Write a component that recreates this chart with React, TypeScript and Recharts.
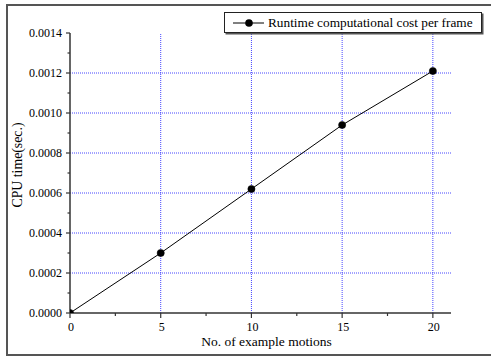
import React from "react";
import {
  Legend,
  Line,
  LineChart,
  ReferenceLine,
  XAxis,
  YAxis,
} from "recharts";

const motions = [0, 5, 10, 15, 20];
const cpuTime = [0, 0.0003, 0.00062, 0.00094, 0.00121];
const xTicks = [0, 2.5, 5, 7.5, 10, 12.5, 15, 17.5, 20];
const yTicks = [
  0, 0.0001, 0.0002, 0.0003, 0.0004, 0.0005, 0.0006, 0.0007, 0.0008, 0.0009,
  0.001, 0.0011, 0.0012, 0.0013, 0.0014,
];
const xGrid = [5, 10, 15, 20];
const yGrid = [0.0002, 0.0004, 0.0006, 0.0008, 0.001, 0.0012];
const seriesName = "Runtime computational cost per frame";

const data = motions.map((m, i) => ({ m, t: cpuTime[i] }));

const FONT = "'Liberation Serif', 'Times New Roman', serif";
const AXIS = "#333";
const GRID = "#4646ff";

function XTick({ x, y, payload }: any) {
  const major = payload.value % 5 === 0;
  return (
    <g>
      <line x1={x} y1={y} x2={x} y2={y + (major ? 5 : 3)} stroke={AXIS} strokeWidth={1.2} />
      {major && (
        <text x={x + 1} y={y + 18} textAnchor="middle" fontSize={12} fontFamily={FONT} fill="#000">
          {payload.value}
        </text>
      )}
    </g>
  );
}

function YTick({ x, y, payload }: any) {
  const major = Math.round(payload.value / 0.0001) % 2 === 0;
  return (
    <g>
      <line x1={x} y1={y} x2={x - (major ? 4 : 2.5)} y2={y} stroke={AXIS} strokeWidth={1.2} />
      {major && (
        <text x={x - 8} y={y + 4} textAnchor="end" fontSize={12} fontFamily={FONT} fill="#000">
          {payload.value.toFixed(4)}
        </text>
      )}
    </g>
  );
}

function LegendBox() {
  return (
    <div
      style={{
        display: "flex",
        alignItems: "center",
        height: 19,
        width: 256,
        border: "1px solid #222",
        boxShadow: "1.5px 1.5px 0 #555",
        background: "#fff",
        fontFamily: FONT,
        fontSize: 13.3,
        color: "#000",
        boxSizing: "content-box",
      }}
    >
      <svg width={43} height={19} style={{ flex: "none" }}>
        <line x1={8} y1={10} x2={39} y2={10} stroke="#000" strokeWidth={1} />
        <circle cx={24} cy={10} r={3.8} fill="#000" />
      </svg>
      <span style={{ whiteSpace: "nowrap" }}>{seriesName}</span>
    </div>
  );
}

export default function App() {
  return (
    <div style={{ position: "absolute", left: 0, top: 0, width: 491, height: 356, background: "#fff" }}>
      <div
        style={{
          position: "absolute",
          left: 6,
          top: 4,
          width: 500,
          height: 352,
          border: "2px solid #555",
          boxSizing: "border-box",
        }}
      />
      <div style={{ position: "absolute", left: 0, top: 0 }}>
        <LineChart width={491} height={356} data={data} margin={{ top: 33, right: 40, bottom: 0, left: 0 }}>
          <XAxis
            dataKey="m"
            type="number"
            domain={[0, 21]}
            ticks={xTicks}
            interval={0}
            allowDataOverflow
            height={43}
            tickSize={0}
            tickMargin={0}
            tick={<XTick />}
            axisLine={{ stroke: AXIS, strokeWidth: 1.5 }}
            tickLine={false}
            label={{
              content: ({ viewBox }: any) => (
                <text
                  x={viewBox.x + viewBox.width / 2 + 6}
                  y={346}
                  textAnchor="middle"
                  fontSize={13.5}
                  fontFamily={FONT}
                  fill="#000"
                >
                  No. of example motions
                </text>
              ),
            }}
          />
          <YAxis
            type="number"
            domain={[0, 0.0014]}
            ticks={yTicks}
            interval={0}
            allowDataOverflow
            width={70}
            tickSize={0}
            tickMargin={0}
            tick={<YTick />}
            axisLine={{ stroke: AXIS, strokeWidth: 1.5 }}
            tickLine={false}
            label={{
              content: ({ viewBox }: any) => {
                const cy = viewBox.y + viewBox.height / 2 - 8;
                return (
                  <text
                    x={22}
                    y={cy}
                    textAnchor="middle"
                    transform={`rotate(-90, 22, ${cy})`}
                    fontSize={13.8}
                    fontFamily={FONT}
                    fill="#000"
                  >
                    CPU time(sec.)
                  </text>
                );
              },
            }}
          />
          {xGrid.map((v) => (
            <ReferenceLine key={`x${v}`} x={v} stroke={GRID} strokeDasharray="1 1" />
          ))}
          {yGrid.map((v) => (
            <ReferenceLine key={`y${v}`} y={v} stroke={GRID} strokeDasharray="1 1" />
          ))}
          <Legend
            layout="horizontal"
            verticalAlign="middle"
            align="center"
            wrapperStyle={{ top: 12, left: 224, width: "auto" }}
            content={<LegendBox />}
          />
          <Line
            dataKey="t"
            name={seriesName}
            type="linear"
            stroke="#000"
            strokeWidth={1}
            dot={{ r: 3.6, fill: "#000", stroke: "#000", strokeWidth: 0.5, clipDot: true }}
            isAnimationActive={false}
          />
        </LineChart>
      </div>
    </div>
  );
}
